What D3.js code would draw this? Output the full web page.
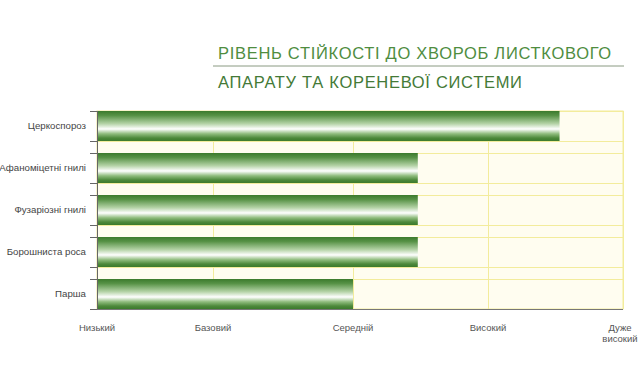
<!DOCTYPE html>
<html>
<head>
<meta charset="utf-8">
<script src="https://cdn.jsdelivr.net/npm/d3@7"></script>
<style>
  body { margin: 0; background: #fff; }
  svg { font-family: "Liberation Sans", Arial, sans-serif; }
</style>
</head>
<body>
<div id="vis"></div>
<script>
const diseases = ["Церкоспороз", "Афаноміцетні гнилі", "Фузаріозні гнилі", "Борошниста роса", "Парша"];
const levels = [3.53, 2.48, 2.48, 2.48, 2.0];
const tick_labels = ["Низький", "Базовий", "Середній", "Високий", "Дуже високий"];
const title_lines = ["РІВЕНЬ СТІЙКОСТІ ДО ХВОРОБ ЛИСТКОВОГО", "АПАРАТУ ТА КОРЕНЕВОЇ СИСТЕМИ"];

const frame_width = 640;
const frame_height = 386;
const margins = {left: 97, right: 17, top: 111, bottom: 77};

const svg = d3.select("#vis")
  .append("svg")
    .attr("width", frame_width)
    .attr("height", frame_height);

// gradient for the bars
const grad = svg.append("defs").append("linearGradient")
    .attr("id", "barGrad")
    .attr("x1", 0).attr("y1", 0).attr("x2", 0).attr("y2", 1);
[[0, "#3b7a2c"], [0.15, "#579246"], [0.42, "#b3d2a5"], [0.6, "#ffffff"],
 [0.76, "#8fbc7d"], [0.9, "#4d893b"], [1, "#3b7a2c"]].forEach(s => {
  grad.append("stop").attr("offset", s[0]).attr("stop-color", s[1]);
});

// x positions of the level ticks are not evenly spaced in the original
const x_scale = d3.scaleLinear()
  .domain([0, 1, 2, 3, 4])
  .range([97, 213, 353, 488, 623]);

const y_scale = d3.scaleBand()
  .domain(diseases)
  .range([margins.top, frame_height - margins.bottom])
  .paddingInner(0.286)
  .paddingOuter(0);

const plot_top = margins.top;
const plot_bottom = frame_height - margins.bottom;

// plot background
svg.append("rect")
  .attr("x", x_scale(0))
  .attr("y", plot_top)
  .attr("width", x_scale(4) - x_scale(0))
  .attr("height", plot_bottom - plot_top)
  .attr("fill", "#fffdf0")
  .attr("stroke", "#f3ec9c")
  .attr("stroke-width", 1);

// horizontal grid lines at each bar edge
const edges = [];
diseases.forEach(d => {
  edges.push(y_scale(d));
  edges.push(y_scale(d) + y_scale.bandwidth());
});

svg.selectAll(".hgrid")
  .data(edges)
  .enter()
  .append("line")
    .attr("x1", x_scale(0))
    .attr("x2", x_scale(4))
    .attr("y1", d => Math.round(d) + 0.5)
    .attr("y2", d => Math.round(d) + 0.5)
    .attr("stroke", "#f3ec9c");

svg.selectAll(".vgrid")
  .data([1, 2, 3, 4])
  .enter()
  .append("line")
    .attr("x1", d => Math.round(x_scale(d)) + 0.5)
    .attr("x2", d => Math.round(x_scale(d)) + 0.5)
    .attr("y1", plot_top)
    .attr("y2", plot_bottom)
    .attr("stroke", "#f3ec9c");

// bars
svg.selectAll(".bar")
  .data(levels)
  .enter()
  .append("rect")
    .attr("x", x_scale(0))
    .attr("y", (d, i) => y_scale(diseases[i]))
    .attr("width", d => x_scale(d) - x_scale(0))
    .attr("height", y_scale.bandwidth())
    .attr("fill", "url(#barGrad)");

// left axis line and ticks
svg.append("line")
  .attr("x1", x_scale(0) + 0.5).attr("x2", x_scale(0) + 0.5)
  .attr("y1", plot_top).attr("y2", plot_bottom)
  .attr("stroke", "#666");

svg.selectAll(".ytick")
  .data(edges)
  .enter()
  .append("line")
    .attr("x1", x_scale(0) - 7)
    .attr("x2", x_scale(0))
    .attr("y1", d => Math.round(d) + 0.5)
    .attr("y2", d => Math.round(d) + 0.5)
    .attr("stroke", "#666");

// bottom axis line
svg.append("line")
  .attr("x1", x_scale(0)).attr("x2", x_scale(4))
  .attr("y1", plot_bottom + 0.5).attr("y2", plot_bottom + 0.5)
  .attr("stroke", "#777");

// category labels
svg.selectAll(".ylabel")
  .data(diseases)
  .enter()
  .append("text")
    .attr("x", 86)
    .attr("y", d => y_scale(d) + y_scale.bandwidth() / 2)
    .attr("dy", "0.35em")
    .attr("text-anchor", "end")
    .attr("font-size", "9.7px")
    .attr("fill", "#444")
    .text(d => d);

// level labels
const xl = svg.selectAll(".xlabel")
  .data(tick_labels)
  .enter()
  .append("text")
    .attr("x", (d, i) => x_scale(i))
    .attr("y", 331)
    .attr("text-anchor", "middle")
    .attr("font-size", "9.5px")
    .attr("fill", "#555");

xl.each(function(d, i) {
  const words = i === 4 ? d.split(" ") : [d];
  const t = d3.select(this);
  words.forEach((w, j) => {
    t.append("tspan")
      .attr("x", x_scale(i) - (i === 4 ? 3 : 0))
      .attr("dy", j === 0 ? 0 : 11)
      .text(w);
  });
});

// title
svg.append("text")
  .attr("x", 218)
  .attr("y", 59)
  .attr("font-size", "16.5px")
  .attr("letter-spacing", "0.7px")
  .attr("fill", "#4f8d3f")
  .text(title_lines[0]);

svg.append("line")
  .attr("x1", 213).attr("x2", 624)
  .attr("y1", 66).attr("y2", 66)
  .attr("stroke", "#8a9a82");

svg.append("text")
  .attr("x", 218)
  .attr("y", 88)
  .attr("font-size", "16.5px")
  .attr("letter-spacing", "0.7px")
  .attr("fill", "#447a37")
  .text(title_lines[1]);
</script>
</body>
</html>
